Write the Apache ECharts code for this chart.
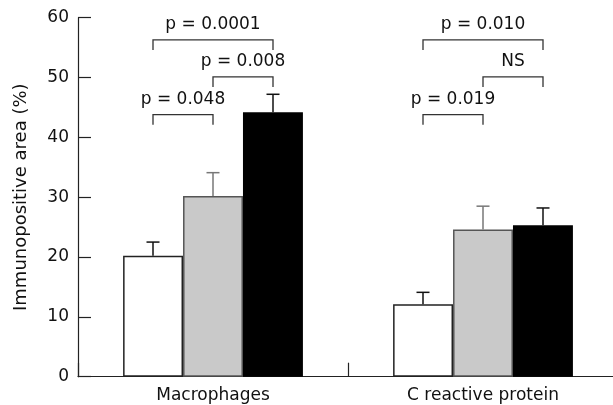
<!DOCTYPE html>
<html><head><meta charset="utf-8">
<script src="https://cdn.jsdelivr.net/npm/echarts@6/dist/echarts.min.js"></script>
<style>html,body{margin:0;padding:0;background:#fff;overflow:hidden;width:613px;height:405px;}#c{width:625px;height:405px;}</style>
</head><body><div id="c"></div>
<script>
const categories = ['Macrophages', 'C reactive protein'];
const whiteVals = [20.2, 12.1];
const whiteErr = [2.3, 2.0];
const greyVals = [30.2, 24.6];
const greyErr = [3.9, 3.9];
const blackVals = [44.2, 25.3];
const blackErr = [3.0, 2.9];
const yTicks = [0, 10, 20, 30, 40, 50, 60];

// significance brackets: category, from bar, to bar, level, label
const bracketCat = [0, 0, 0, 1, 1, 1];
const bracketFrom = [0, 1, 0, 0, 1, 0];
const bracketTo = [1, 2, 2, 1, 2, 2];
const bracketLevel = [43.8, 50.1, 56.3, 43.8, 50.1, 56.3];
const bracketLabels = ['p = 0.048', 'p = 0.008', 'p = 0.0001', 'p = 0.019', 'NS', 'p = 0.010'];

const FONT = 'DejaVu Sans';
const barFrac = 2 / 9;

const errData = [];
[[whiteVals, whiteErr], [greyVals, greyErr], [blackVals, blackErr]].forEach((s, si) => {
  s[0].forEach((v, ci) => errData.push([ci, si, v, s[1][ci]]));
});
const errColors = ['#111', '#777', '#111'];

const brData = bracketCat.map((c, i) => [c, bracketFrom[i], bracketTo[i], bracketLevel[i], bracketLabels[i]]);

const chart = echarts.init(document.getElementById('c'));
chart.setOption({
  animation: false,
  grid: { left: 78, top: 17.7, bottom: 28.3, width: 540 },
  xAxis: {
    type: 'category', data: categories,
    axisLine: { lineStyle: { color: '#222', width: 1.2 } },
    axisTick: { show: true, inside: true, length: 14, lineStyle: { color: '#222', width: 1.2 } },
    axisLabel: { color: '#111', fontSize: 17, fontFamily: FONT, margin: 10 }
  },
  yAxis: {
    type: 'value', min: yTicks[0], max: yTicks[yTicks.length - 1], interval: 10,
    name: 'Immunopositive area (%)', nameLocation: 'middle', nameGap: 48,
    nameTextStyle: { color: '#111', fontSize: 18, fontFamily: FONT },
    axisLine: { show: true, lineStyle: { color: '#222', width: 1.2 } },
    axisTick: { show: true, inside: true, length: 13, lineStyle: { color: '#222', width: 1.2 } },
    axisLabel: { color: '#111', fontSize: 17, fontFamily: FONT, margin: 9 },
    splitLine: { show: false }
  },
  series: [
    { type: 'bar', data: whiteVals, barWidth: '22.2%', barGap: '0%',
      itemStyle: { color: '#fff', borderColor: '#222', borderWidth: 1.5 } },
    { type: 'bar', data: greyVals, barWidth: '22.2%', barGap: '0%',
      itemStyle: { color: '#c9c9c9', borderColor: '#555', borderWidth: 1.5 } },
    { type: 'bar', data: blackVals, barWidth: '22.2%', barGap: '0%',
      itemStyle: { color: '#000', borderColor: '#000', borderWidth: 1.5 } },
    { type: 'custom', z: 5, data: errData,
      renderItem: function (params, api) {
        const c = api.value(0), s = api.value(1), v = api.value(2), e = api.value(3);
        const band = api.size([1, 0])[0];
        const base = api.coord([c, v]);
        const top = api.coord([c, v + e]);
        const x = base[0] + (s - 1) * band * barFrac;
        const st = { stroke: errColors[s], lineWidth: 1.5 };
        return { type: 'group', children: [
          { type: 'line', shape: { x1: x, y1: base[1], x2: x, y2: top[1] }, style: st },
          { type: 'line', shape: { x1: x - 6.5, y1: top[1], x2: x + 6.5, y2: top[1] }, style: st }
        ]};
      } },
    { type: 'custom', z: 5, data: brData,
      renderItem: function (params, api) {
        const c = api.value(0), f = api.value(1), t = api.value(2), lv = api.value(3);
        const label = brData[params.dataIndex][4];
        const band = api.size([1, 0])[0];
        const p = api.coord([c, lv]);
        const pl = api.coord([c, lv - 1.7]);
        const x1 = p[0] + (f - 1) * band * barFrac;
        const x2 = p[0] + (t - 1) * band * barFrac;
        const st = { stroke: '#333', lineWidth: 1.3, fill: null };
        return { type: 'group', children: [
          { type: 'polyline', shape: { points: [[x1, pl[1]], [x1, p[1]], [x2, p[1]], [x2, pl[1]]] }, style: st },
          { type: 'text', style: { text: label, x: (x1 + x2) / 2, y: p[1] - 15, align: 'center', verticalAlign: 'middle',
            fill: '#111', fontSize: 17, fontFamily: FONT } }
        ]};
      } }
  ]
});
</script></body></html>
